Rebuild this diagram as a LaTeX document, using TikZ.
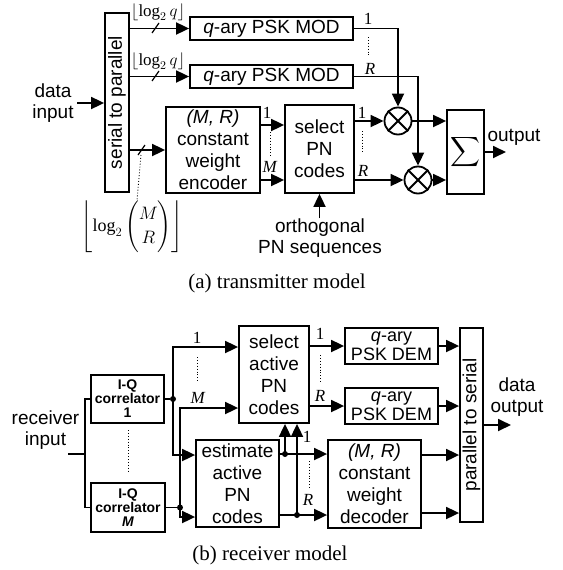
\RequirePackage{fix-cm}
\documentclass[tikz,border=0pt]{standalone}
\usepackage{amsmath}
\usepackage{fontspec}
\setmainfont{Liberation Serif}
\setsansfont{Liberation Sans}
\usetikzlibrary{arrows.meta}
\begin{document}
\begin{tikzpicture}[x=1pt,y=-1pt,
  blk/.style={draw, line width=1.8pt, inner sep=0pt, align=center, font=\sffamily\fontsize{19}{22}\selectfont},
  sans/.style={inner sep=0pt, align=center, font=\sffamily\fontsize{19}{21}\selectfont},
  wire/.style={line width=1.8pt},
  arr/.style={line width=1.8pt, -{Triangle[length=13pt,width=12pt]}},
  lbl/.style={inner sep=0pt, font=\fontsize{17}{17}\selectfont},
  dts/.style={dotted, line width=0.9pt},
  slash/.style={line width=1.2pt},
  jdot/.style={circle, fill, inner sep=0pt, minimum size=6pt},
  mult/.style={circle, draw, line width=1.8pt, minimum size=27pt, inner sep=0pt},
  corr/.style={blk, font=\sffamily\bfseries\fontsize{14}{14}\selectfont},
  capt/.style={inner sep=0pt, font=\fontsize{21}{21}\selectfont}
]
\useasboundingbox (0,0) rectangle (562,570);

% ---------------- transmitter ----------------
\node[blk, minimum width=24pt, minimum height=179pt] (sp) at (117,102.5) {};
\node[sans, rotate=90] at (sp.center) {serial to parallel};
\node[blk, minimum width=163pt, minimum height=23pt] (mod1) at (271.5,28.5) {\textit{q}-ary PSK MOD};
\node[blk, minimum width=163pt, minimum height=23pt] (mod2) at (271.5,76.5) {\textit{q}-ary PSK MOD};
\node[blk, minimum width=94pt, minimum height=86pt] (enc) at (213,150) {\textit{(M, R)}\\constant\\weight\\encoder};
\node[blk, minimum width=69pt, minimum height=88pt] (sel) at (319.5,149) {select\\PN\\codes};
\node[mult] (m1) at (398,121) {};
\node[mult] (m2) at (418,180) {};
\draw[wire] (m1.north west) -- (m1.south east) (m1.north east) -- (m1.south west);
\draw[wire] (m2.north west) -- (m2.south east) (m2.north east) -- (m2.south west);
\node[blk, minimum width=37pt, minimum height=84pt] (sig) at (465.5,152) {\fontsize{21}{21}\selectfont$\displaystyle\boldsymbol{\sum}$};

\node[sans] (din) at (53,103) {data\\input};
\coordinate (dinS) at (77,103);
\draw[arr] (dinS) -- (dinS -| sp.west);

\draw[arr] (sp.east |- mod1) -- (mod1.west);
\draw[arr] (sp.east |- mod2) -- (mod2.west);
\draw[slash] (152,33) -- (159,23);
\draw[slash] (152,81) -- (159,71);
\node[lbl] (lq1) at (158,12) {$\lfloor\log_2 q\rfloor$};
\node[lbl] (lq2) at (158,61) {$\lfloor\log_2 q\rfloor$};

\draw[arr] (sp.east |- enc) -- (enc.west);
\draw[slash] (138,155) -- (145,145);
\node[lbl, font=\fontsize{18}{18}\selectfont] (lmr) at (132,227) {$\displaystyle\left\lfloor\log_2\binom{M}{R}\right\rfloor$};
\draw[dts] (141,155) -- (lmr.north -| 137,0);

\draw[arr] (enc.east |- 0,125) -- (sel.west |- 0,125);
\draw[arr] (enc.east |- 0,180) -- (sel.west |- 0,180);
\node[lbl] at (267,113) {1};
\node[lbl] at (270,167) {\textit{M}};
\draw[dts] (270,132) -- (270,158);

\draw[arr] (sel.east |- m1) -- (m1.west);
\draw[arr] (sel.east |- m2) -- (m2.west);
\node[lbl] at (362,113) {1};
\node[lbl] at (363,171) {\textit{R}};
\draw[dts] (362,131) -- (362,153);

\draw[arr] (mod1.east) -| (m1.north);
\draw[arr] (mod2.east) -| (m2.north);
\node[lbl] at (368,19) {1};
\node[lbl] at (370,69) {\textit{R}};
\draw[dts] (368,37) -- (368,57);

\draw[arr] (m1.east) -- (m1 -| sig.west);
\draw[arr] (m2.east) -- (m2 -| sig.west);
\coordinate (outE) at (506,152);
\draw[arr] (sig.east) -- (outE);
\node[sans] at (514,137) {output};

\node[sans] (orth) at (320,238) {orthogonal\\PN sequences};
\draw[arr] (orth.north -| sel.south) -- (sel.south);

\node[capt] at (277,283) {(a) transmitter model};

% ---------------- receiver ----------------
\node[sans] (rin) at (45.5,430) {receiver\\input};
\coordinate (rinE) at (68,454);
\draw[wire] (rinE) -- ++(18,0);

\node[corr, minimum width=73pt, minimum height=48pt] (c1) at (127.5,399) {I-Q\\correlator\\1};
\node[corr, minimum width=74pt, minimum height=49pt] (cM) at (128,507.5) {I-Q\\correlator\\\textit{M}};
\draw[wire] (c1.west) -- ++(-5,0) |- (cM.west);
\draw[dts] (128,430) -- (128,472);

\node[jdot] (d1) at (173,399) {};
\node[jdot] (dM) at (180,507.5) {};
\draw[wire] (c1.east) -- (d1);
\draw[wire] (cM.east) -- (dM);

\node[blk, minimum width=70pt, minimum height=97pt] (sela) at (274,374.5) {select\\active\\PN\\codes};
\node[blk, minimum width=83pt, minimum height=87pt] (est) at (237.5,483.5) {estimate\\active\\PN\\codes};

\draw[arr] (d1.center) |- (sela.west |- 0,347);
\draw[arr] (dM.center) |- (sela.west |- 0,408);
\draw[arr] (d1.center) |- (est.west |- 0,455);
\draw[arr] (dM.center) |- (est.west |- 0,517);
\node[lbl] at (197,338) {1};
\node[lbl] at (198,398) {\textit{M}};
\draw[dts] (197,357) -- (197,383);

\node[blk, minimum width=93pt, minimum height=88pt] (dec) at (374.5,484) {\textit{(M, R)}\\constant\\weight\\decoder};

\node[jdot] (e1) at (285,454) {};
\node[jdot] (e2) at (297,515) {};
\draw[wire] (est.east |- e1) -- (e1.center);
\draw[wire] (est.east |- e2) -- (e2.center);
\draw[arr] (e1.center) -- (dec.west |- e1);
\draw[arr] (e2.center) -- (dec.west |- e2);
\draw[arr] (e1.center) -- (e1 |- sela.south);
\draw[arr] (e2.center) -- (e2 |- sela.south);
\node[lbl] at (307,437) {1};
\node[lbl] at (308,500) {\textit{R}};
\draw[dts] (309,461) -- (309,489);

\node[blk, minimum width=93pt, minimum height=36pt, font=\sffamily\fontsize{18}{19}\selectfont] (dem1) at (391.5,346) {\textit{q}-ary\\PSK DEM};
\node[blk, minimum width=93pt, minimum height=36pt, font=\sffamily\fontsize{18}{19}\selectfont] (dem2) at (391.5,406) {\textit{q}-ary\\PSK DEM};
\draw[arr] (sela.east |- dem1) -- (dem1.west);
\draw[arr] (sela.east |- dem2) -- (dem2.west);
\node[lbl] at (320,334) {1};
\node[lbl] at (320,396) {\textit{R}};
\draw[dts] (320,355) -- (320,382);

\node[blk, minimum width=23pt, minimum height=194pt] (ps) at (471.5,425) {};
\node[sans, rotate=90] at (ps.center) {parallel to serial};
\draw[arr] (dem1.east) -- (dem1 -| ps.west);
\draw[arr] (dem2.east) -- (dem2 -| ps.west);
\draw[arr] (dec.east |- 0,455) -- (ps.west |- 0,455);
\draw[arr] (dec.east |- 0,513) -- (ps.west |- 0,513);
\coordinate (doutE) at (511,425);
\draw[arr] (ps.east) -- (doutE);
\node[sans] at (517,397) {data\\output};

\node[capt] at (270,555) {(b) receiver model};
\end{tikzpicture}
\end{document}
